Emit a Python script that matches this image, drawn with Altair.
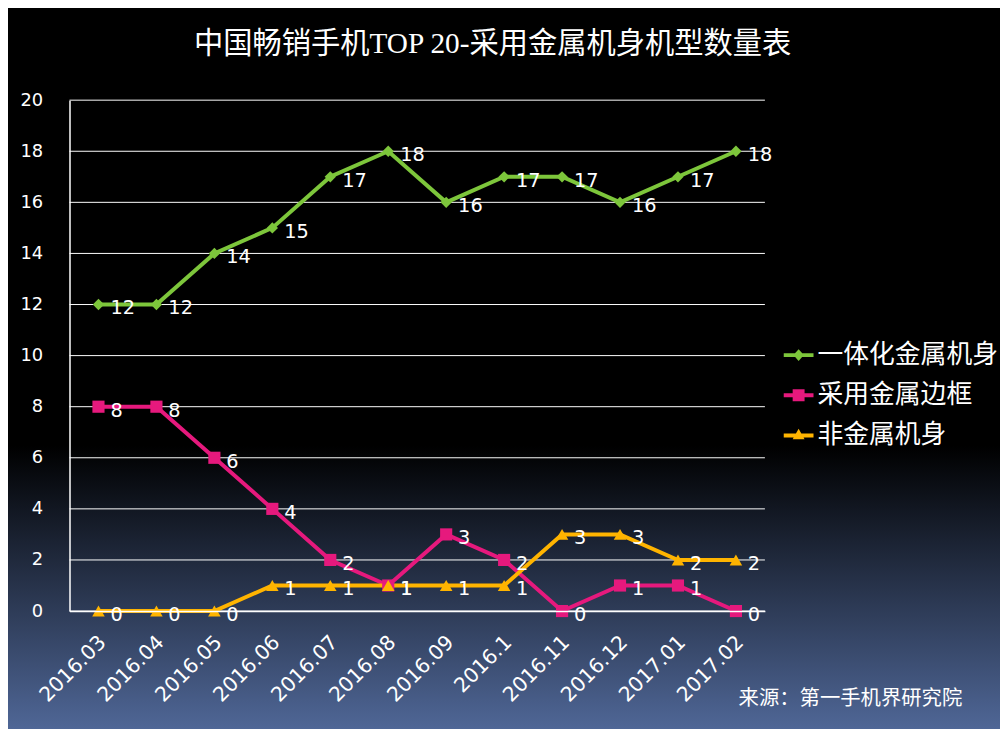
import altair as alt
import pandas as pd

months = ["2016.03", "2016.04", "2016.05", "2016.06", "2016.07", "2016.08",
          "2016.09", "2016.1", "2016.11", "2016.12", "2017.01", "2017.02"]
series_names = ["一体化金属机身", "采用金属边框", "非金属机身"]
unibody = [12, 12, 14, 15, 17, 18, 16, 17, 17, 16, 17, 18]
metal_frame = [8, 8, 6, 4, 2, 1, 3, 2, 0, 1, 1, 0]
non_metal = [0, 0, 0, 1, 1, 1, 1, 1, 3, 3, 2, 2]
colors = ["#7DC63B", "#E6197D", "#FFB400"]
marker_shapes = ["diamond", "square", "triangle-up"]
marker_sizes = [130, 150, 160]
legend_paths = [
    "M-1,-0.13L1,-0.13L1,0.13L-1,0.13Z M0,-0.4L0.35,0L0,0.4L-0.35,0Z",
    "M-1,-0.13L1,-0.13L1,0.13L-1,0.13Z M-0.4,-0.4L0.4,-0.4L0.4,0.4L-0.4,0.4Z",
    "M-1,-0.13L1,-0.13L1,0.13L-1,0.13Z M0,-0.45L0.4,0.25L-0.4,0.25Z",
]
title_text = "中国畅销手机TOP 20-采用金属机身机型数量表"
source_text = "来源：第一手机界研究院"
y_ticks = list(range(0, 21, 2))

rows = []
for name, vals in zip(series_names, [unibody, metal_frame, non_metal]):
    for m, v in zip(months, vals):
        rows.append({"month": m, "series": name, "value": v})
df = pd.DataFrame(rows)
grid_df = pd.DataFrame({"value": y_ticks})

W, H = 701, 515
PL, PT, PR, PB = 62, 90, 237, 116

NUM_FONT = "DejaVu Sans"
CJK_FONT = "Noto Sans CJK SC"

x_axis = alt.Axis(title=source_text, labelAngle=-45, labelAlign="right",
                  labelBaseline="middle", labelPadding=28, labelOffset=4,
                  labelFont=NUM_FONT, labelFontSize=20.5, labelColor="white",
                  titleFont=CJK_FONT, titleFontSize=20.5, titleFontWeight="normal",
                  titleColor="white", titleX=674, titleY=88, titleAlign="left",
                  titleBaseline="middle", titleAngle=0,
                  domainColor="white", domainWidth=1.5, ticks=False, grid=False,
                  zindex=2)
x_enc = alt.X("month:N", sort=months, scale=alt.Scale(padding=0.5), axis=x_axis)
y_scale = alt.Scale(domain=[0, 20], nice=False)
y_axis = alt.Axis(title=None, values=y_ticks, labelFont=NUM_FONT, labelFontSize=18,
                  labelColor="white", labelPadding=27, ticks=False,
                  domainColor="white", domainWidth=1.5, grid=False, zindex=2)
y_enc = alt.Y("value:Q", scale=y_scale, axis=y_axis)
color_scale = alt.Scale(domain=series_names, range=colors)
color_nolegend = alt.Color("series:N", scale=color_scale, legend=None)

bg = alt.Chart(pd.DataFrame({"k": [0]})).mark_rect(
    fill=alt.Gradient(gradient="linear",
                      stops=[alt.GradientStop(color="#000000", offset=0),
                             alt.GradientStop(color="#000000", offset=0.6),
                             alt.GradientStop(color="#51699A", offset=1)],
                      x1=0, x2=0, y1=0, y2=1)
).encode(x=alt.value(-PL), x2=alt.value(W + PR), y=alt.value(-PT), y2=alt.value(H + PB + 10))

legend_layer = alt.Chart(df).transform_filter("false").mark_point(filled=True, opacity=1).encode(
    x=x_enc, y=y_enc,
    color=alt.Color("series:N", scale=color_scale, legend=alt.Legend(title=None)),
    shape=alt.Shape("series:N", scale=alt.Scale(domain=series_names, range=legend_paths),
                    legend=alt.Legend(title=None)),
)

grid = alt.Chart(grid_df).mark_rule(color="white", strokeWidth=1).encode(
    y=y_enc, x=alt.value(0), x2=alt.value(W))

lines = alt.Chart(df).mark_line(strokeWidth=4).encode(x=x_enc, y=y_enc, color=color_nolegend)

markers = []
for name, shp, sz in zip(series_names, marker_shapes, marker_sizes):
    markers.append(
        alt.Chart(df).transform_filter(alt.datum.series == name)
        .mark_point(shape=shp, filled=True, size=sz, opacity=1)
        .encode(x=x_enc, y=y_enc, color=color_nolegend)
    )

labels = alt.Chart(df).mark_text(align="left", baseline="middle", dx=12, dy=4,
                                 color="white", font=NUM_FONT, fontSize=19.5).encode(
    x=x_enc, y=y_enc, text="value:Q")

chart = alt.layer(bg, legend_layer, grid, lines, *markers, labels).properties(
    width=W, height=H,
    autosize=alt.AutoSizeParams(type="none"),
    padding={"left": PL, "top": PT, "right": PR, "bottom": PB},
    background="black",
    title=alt.TitleParams(title_text, font="Liberation Serif, 'Noto Sans CJK SC'", fontSize=29.5,
                          fontWeight="normal", color="white", anchor="middle", frame="group",
                          dx=76, offset=-49, zindex=2),
).configure_view(stroke=None).configure_legend(
    orient="none", legendX=720, legendY=242, padding=0, zindex=2,
    symbolSize=900, symbolStrokeWidth=0, symbolOpacity=1,
    labelFont=CJK_FONT, labelFontSize=26, labelColor="white", labelOffset=4,
    rowPadding=12.5, labelLimit=400,
)

chart.save("out.html", embed_options={"renderer": "svg", "actions": False})
